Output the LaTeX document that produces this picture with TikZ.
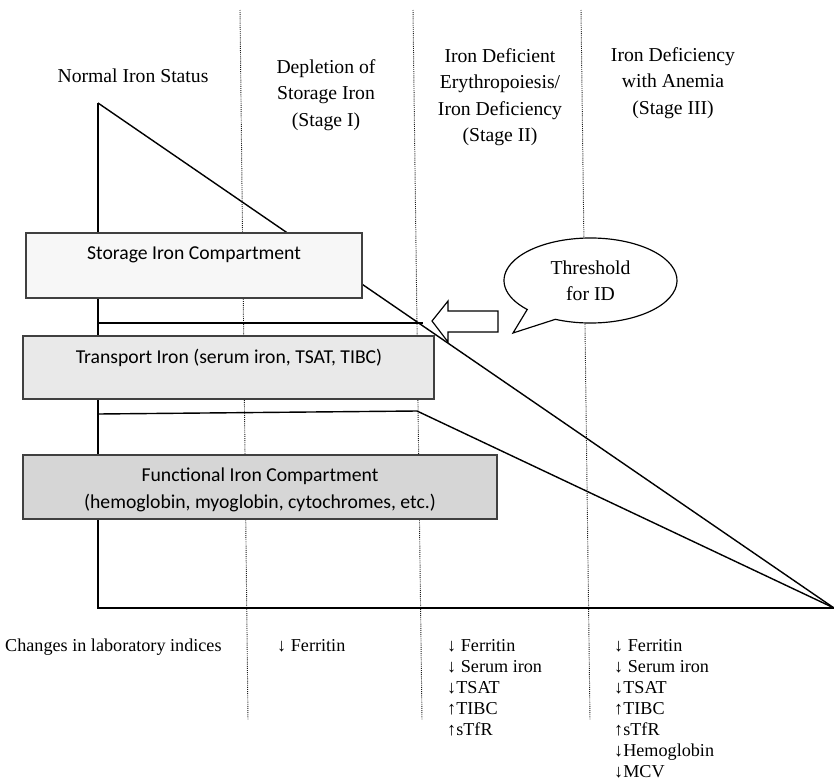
\documentclass[tikz,border=0pt]{standalone}
\usepackage{fontspec}
\setmainfont{Liberation Serif}
\newfontfamily\boxfont{Carlito}

\begin{document}
\begin{tikzpicture}[x=0.03cm, y=-0.03cm, every node/.style={font=\fontsize{16.8}{22.6}\selectfont}]
  % -----------------------------
  % SETTINGS (pixel grid, y down)
  % -----------------------------
  \def\xl{98}    % left edge of the iron triangle
  \def\yb{608}   % base line

  % -----------------------------
  % STYLES
  % -----------------------------
  \tikzset{
    sepline/.style={densely dotted, line width=0.8pt, black!90},
    ironline/.style={line width=1.2pt},
    cmpbox/.style={draw=black!75, line width=1.3pt},
    cmptxt/.style={font=\boxfont\fontsize{16.8}{23.5}\selectfont, align=center, inner sep=0pt},
    stagelab/.style={align=center, inner sep=0pt},
    labidx/.style={font=\fontsize{15.5}{17.9}\selectfont, align=left, anchor=north west, inner sep=0pt},
    bubble/.style={draw, line width=1pt, fill=white},
  }

  \useasboundingbox (0,0) rectangle (834,780);

  % -----------------------------
  % STAGE SEPARATORS (dotted)
  % -----------------------------
  \draw[sepline] (240,10) -- (248,720);
  \draw[sepline] (413,10) -- (422,720);
  \draw[sepline] (581,10) -- (590,720);

  % -----------------------------
  % THRESHOLD ARROW
  % -----------------------------
  \draw[line width=1pt, fill=white] (498,311) -- (448,311) -- (448,301) -- (432,321)
    -- (448,342) -- (448,332) -- (498,332) -- cycle;

  % -----------------------------
  % IRON TRIANGLE + COMPARTMENT LINES
  % -----------------------------
  \coordinate (apex) at (\xl,103);
  \coordinate (corner) at (\xl,\yb);
  \coordinate (tip) at (834,\yb);
  \coordinate (trTop) at (\xl,323);
  \coordinate (trTopEnd) at (423,323);
  \coordinate (fnTop) at (\xl,414);
  \coordinate (fnKnee) at (417,411);

  \draw[ironline] (apex) -- (tip);
  \draw[ironline] (apex) -- (corner) -- (tip);
  \draw[ironline] (trTop) -- (trTopEnd);
  \draw[ironline] (fnTop) -- (fnKnee) -- (tip);

  % -----------------------------
  % COMPARTMENT BOXES
  % -----------------------------
  \draw[cmpbox, fill=gray!6]  (26,233) rectangle (362,298);
  \draw[cmpbox, fill=gray!17] (23,336) rectangle (434,399);
  \draw[cmpbox, fill=gray!32] (23,455) rectangle (497,519);

  \node[cmptxt] (storage) at (194,255) {Storage Iron Compartment};
  \node[cmptxt] (transport) at (229,358) {Transport Iron (serum iron, TSAT, TIBC)};
  \node[cmptxt] (functional) at (260,490) {Functional Iron Compartment\\(hemoglobin, myoglobin, cytochromes, etc.)};

  % -----------------------------
  % CALLOUT (ellipse + pointer)
  % -----------------------------
  \coordinate (bubbleC) at (590.5,280.5);
  \coordinate (bubbleTip) at (513,333);
  \draw[bubble] (bubbleTip) -- ([shift={(246:2.595cm and 1.275cm)}]bubbleC)
    arc[start angle=246, end angle=583, x radius=2.595cm, y radius=1.275cm] -- cycle;
  \node[stagelab] (thresh) at (590.5,281) {Threshold\\for ID};

  % -----------------------------
  % STAGE HEADINGS
  % -----------------------------
  \node[stagelab] (normal) at (133,76) {Normal Iron Status};
  \node[stagelab] (stageI) at (326,95) {Depletion of\\Storage Iron\\(Stage I)};
  \node[stagelab] (stageII) at (500,97) {Iron Deficient\\Erythropoiesis/\\Iron Deficiency\\(Stage II)};
  \node[stagelab] (stageIII) at (673,83) {Iron Deficiency\\with Anemia\\(Stage III)};

  % -----------------------------
  % LABORATORY INDICES
  % -----------------------------
  \node[labidx] (labchg) at (5,639) {Changes in laboratory indices};
  \node[labidx] (labI) at (277,639) {↓ Ferritin};
  \node[labidx] (labII) at (447,639) {↓ Ferritin\\↓ Serum iron\\↓TSAT\\↑TIBC\\↑sTfR};
  \node[labidx] (labIII) at (614,639) {↓ Ferritin\\↓ Serum iron\\↓TSAT\\↑TIBC\\↑sTfR\\↓Hemoglobin\\↓MCV};
\end{tikzpicture}
\end{document}
